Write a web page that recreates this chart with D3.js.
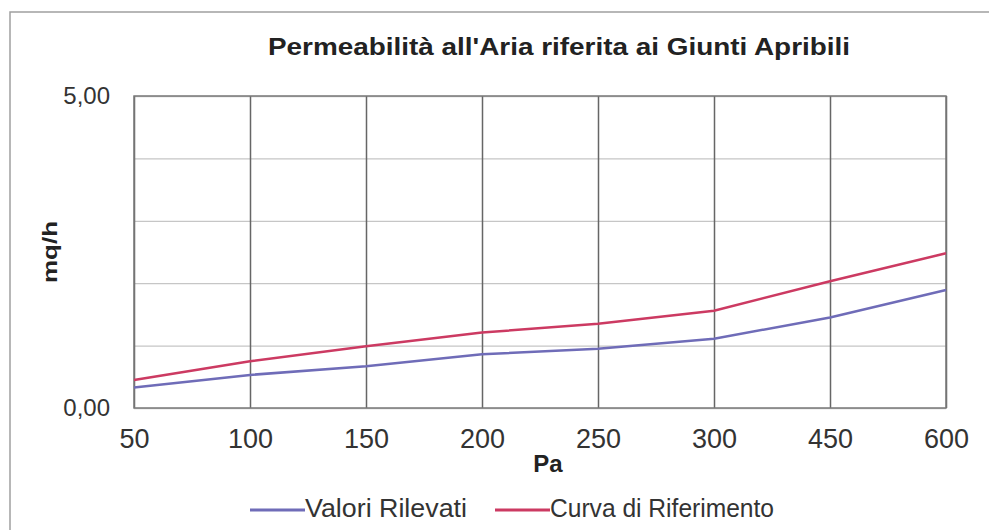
<!DOCTYPE html>
<html>
<head>
<meta charset="utf-8">
<script src="https://cdn.jsdelivr.net/npm/d3@7"></script>
<style>
  body { margin: 0; background: #fff; }
  svg { display: block; }
  text { font-family: "Liberation Sans", Arial, sans-serif; }
</style>
</head>
<body>
<svg id="chart" width="989" height="530"></svg>
<script>
// categories (pressure, Pa)
const categories = ["50", "100", "150", "200", "250", "300", "450", "600"];
// measured values (mq/h)
const valoriRilevati = [0.33, 0.53, 0.67, 0.86, 0.95, 1.11, 1.45, 1.89];
// reference curve (mq/h)
const curvaRiferimento = [0.45, 0.75, 0.99, 1.21, 1.35, 1.56, 2.03, 2.48];
const yTickLabels = ["0,00", "5,00"];

const svg = d3.select("#chart");
const width = +svg.attr("width");
const height = +svg.attr("height");
const margin = {top: 96, right: 43, bottom: 122, left: 134};
const innerWidth = width - margin.left - margin.right;
const innerHeight = height - margin.top - margin.bottom;

// outer frame (open at right and bottom, like the scan)
svg.append("path")
  .attr("d", `M10,${height}V12H${width}`)
  .attr("fill", "none")
  .attr("stroke", "#a0a0a0")
  .attr("stroke-width", 1.5);

// title
svg.append("text")
  .attr("x", 268)
  .attr("y", 55)
  .attr("textLength", 582)
  .attr("lengthAdjust", "spacingAndGlyphs")
  .style("font-size", "24px")
  .style("font-weight", "bold")
  .style("fill", "#222")
  .text("Permeabilità all'Aria riferita ai Giunti Apribili");

const g = svg.append("g")
  .attr("transform", `translate(${margin.left},${margin.top})`);

const x = d3.scalePoint()
  .domain(categories)
  .range([0, innerWidth]);

const y = d3.scaleLinear()
  .domain([0, 5])
  .range([innerHeight, 0]);

// horizontal grid
g.append("g")
  .call(d3.axisLeft(y).ticks(5).tickSize(-innerWidth).tickFormat(""))
  .call(s => s.select(".domain").remove())
  .call(s => s.selectAll("text").remove())
  .call(s => s.selectAll("line").attr("stroke", "#c6c6c6").attr("stroke-width", 1.3));

// vertical grid
g.append("g")
  .attr("transform", `translate(0,${innerHeight})`)
  .call(d3.axisBottom(x).tickSize(-innerHeight).tickFormat(""))
  .call(s => s.select(".domain").remove())
  .call(s => s.selectAll("text").remove())
  .call(s => s.selectAll("line").attr("stroke", "#666").attr("stroke-width", 1.5));

// plot border
g.append("rect")
  .attr("width", innerWidth)
  .attr("height", innerHeight)
  .attr("fill", "none")
  .attr("stroke", "#7a7a7a")
  .attr("stroke-width", 1.5);

// y tick labels (only 0 and 5)
g.append("g")
  .call(d3.axisLeft(y).tickValues([0, 5]).tickSize(0).tickPadding(24)
    .tickFormat((d, i) => yTickLabels[i]))
  .call(s => s.select(".domain").remove())
  .call(s => s.selectAll("text").style("font-size", "24px").style("fill", "#333")
    .style("font-family", "'Liberation Sans', Arial, sans-serif"));

// x tick labels
g.append("g")
  .attr("transform", `translate(0,${innerHeight})`)
  .call(d3.axisBottom(x).tickSize(0).tickPadding(21))
  .call(s => s.select(".domain").remove())
  .call(s => s.selectAll("text").style("font-size", "27px").style("fill", "#333")
    .style("font-family", "'Liberation Sans', Arial, sans-serif"));

// series lines
const line = d3.line()
  .x((d, i) => x(categories[i]))
  .y(d => y(d));

g.append("path")
  .datum(valoriRilevati)
  .attr("d", line)
  .attr("fill", "none")
  .attr("stroke", "#6f6cb8")
  .attr("stroke-width", 2.5);

g.append("path")
  .datum(curvaRiferimento)
  .attr("d", line)
  .attr("fill", "none")
  .attr("stroke", "#cc3a62")
  .attr("stroke-width", 2.5);

// axis titles
svg.append("text")
  .attr("x", 548)
  .attr("y", 472)
  .attr("text-anchor", "middle")
  .style("font-size", "24px")
  .style("font-weight", "bold")
  .style("fill", "#222")
  .text("Pa");

svg.append("text")
  .attr("transform", "translate(57,252) rotate(-90)")
  .attr("text-anchor", "middle")
  .attr("textLength", 62)
  .attr("lengthAdjust", "spacingAndGlyphs")
  .style("font-size", "21px")
  .style("font-weight", "bold")
  .style("fill", "#222")
  .text("mq/h");

// legend
const legendItems = [
  {label: "Valori Rilevati", color: "#6f6cb8", x: 250, w: 162},
  {label: "Curva di Riferimento", color: "#cc3a62", x: 495, w: 224}
];
const legend = svg.append("g").attr("transform", "translate(0,510)");
legendItems.forEach(d => {
  legend.append("line")
    .attr("x1", d.x).attr("x2", d.x + 55)
    .attr("y1", 0).attr("y2", 0)
    .attr("stroke", d.color)
    .attr("stroke-width", 3);
  legend.append("text")
    .attr("x", d.x + 55)
    .attr("y", 7)
    .attr("textLength", d.w)
    .attr("lengthAdjust", "spacingAndGlyphs")
    .style("font-size", "25px")
    .style("fill", "#333")
    .text(d.label);
});
</script>
</body>
</html>
